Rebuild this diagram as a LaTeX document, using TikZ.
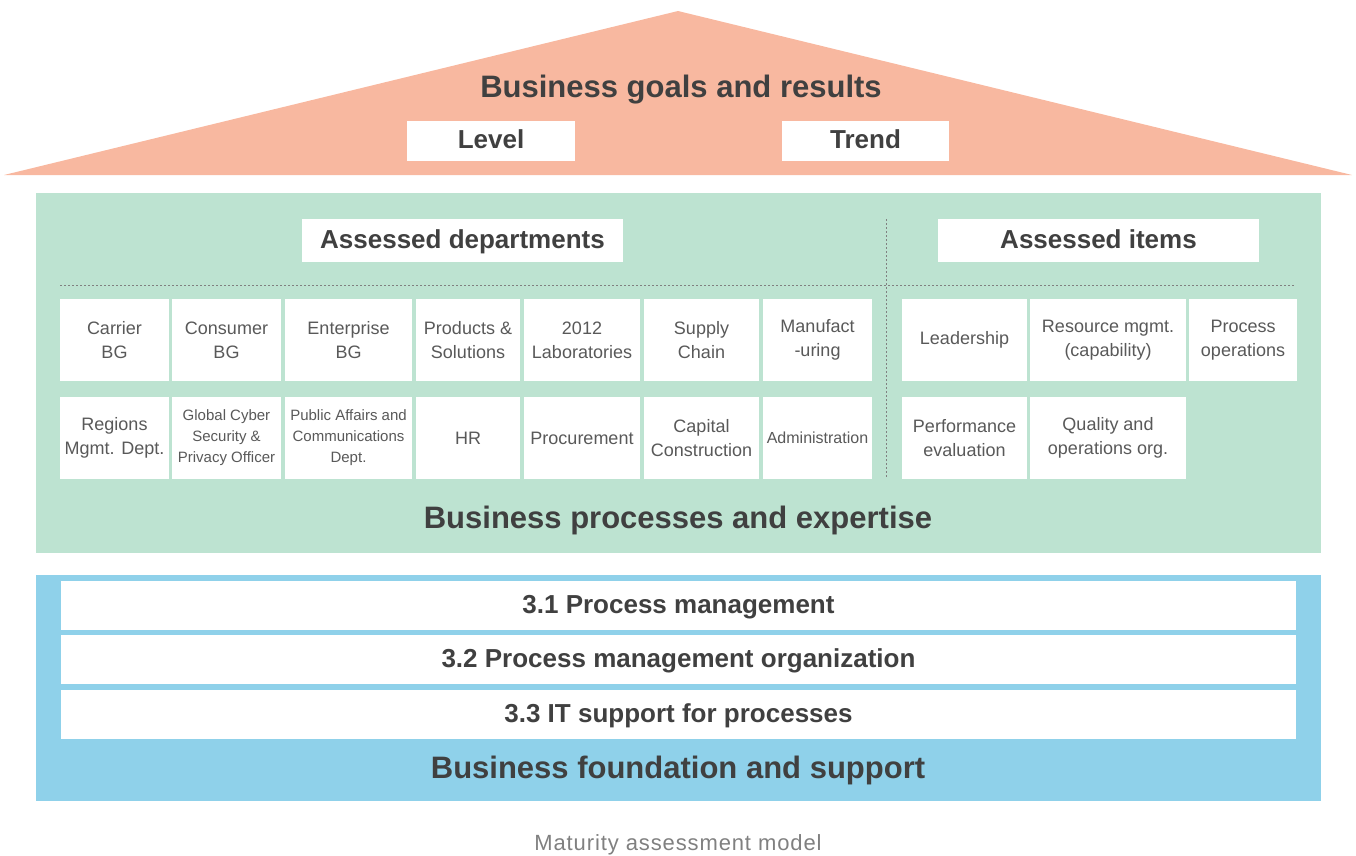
\documentclass[tikz,border=0pt]{standalone}
\usepackage{fontspec}
\setmainfont{Liberation Sans}
\usetikzlibrary{calc}

\definecolor{roofc}{RGB}{248,184,160}
\definecolor{greenc}{RGB}{189,227,209}
\definecolor{bluec}{RGB}{143,209,234}
\definecolor{headc}{RGB}{64,64,64}
\definecolor{cellc}{RGB}{89,89,89}
\definecolor{capc}{RGB}{128,128,128}

\tikzset{
	title/.style={text=headc, inner sep=0pt, anchor=base, font=\fontsize{31}{36}\selectfont\bfseries},
	head/.style={fill=white, text=headc, inner sep=0pt, text height=19pt, text depth=4pt, font=\fontsize{26}{30}\selectfont\bfseries},
	cell/.style={fill=white, text=cellc, inner sep=0pt, align=center, minimum height=82pt, font=\fontsize{18}{24}\selectfont},
	smallcell/.style={cell, font=\fontsize{15}{21}\selectfont},
	bar/.style={head, minimum width=1235pt, minimum height=49pt},
	sep/.style={capc, line width=1pt, dash pattern=on 2pt off 2pt}
}

\begin{document}
\begin{tikzpicture}[x=1pt, y=-1pt]
	
	\useasboundingbox (0,0) rectangle (1356,855);
	
	\coordinate (eaveL) at (4,175);
	\coordinate (apex) at (678,11);
	\coordinate (eaveR) at (1352,175);
	\coordinate (sepT) at (886,219);
	\coordinate (sepB) at (886,478);
	\coordinate (sepL) at (60,285);
	\coordinate (sepR) at (1295,285);
	
	% The roof
	\fill [roofc] (eaveL) -- (apex) -- (eaveR) -- cycle;
	
	% The green block
	\fill [greenc] (36,193) rectangle (1321,553);
	
	% The blue block
	\fill [bluec] (36,575) rectangle (1321,801);
	
	% Roof texts
	\node [title] (goals) at (681,97) {Business goals and results};
	\node [head, minimum width=168pt, minimum height=40pt] (level) at (491,141) {Level};
	\node [head, minimum width=167pt, minimum height=40pt] (trend) at (865.5,141) {Trend};
	
	% Separating lines
	\draw [sep] (sepT) -- (sepB);
	\draw [sep] (sepL) -- (sepR);
	
	% Column headings
	\node [head, minimum width=321pt, minimum height=43pt] (depts) at (462.5,240.5) {Assessed departments};
	\node [head, minimum width=321pt, minimum height=43pt] (items) at (1098.5,240.5) {Assessed items};
	
	% Departments, first row
	\node [cell, minimum width=109pt] (carrier) at (114.5,340) {Carrier\\BG};
	\node [cell, minimum width=109pt] (consumer) at (226.5,340) {Consumer\\BG};
	\node [cell, minimum width=127pt] (enterprise) at (348.5,340) {Enterprise\\BG};
	\node [cell, minimum width=104pt] (products) at (468,340) {Products \&\\Solutions};
	\node [cell, minimum width=116pt] (labs) at (582,340) {2012\\Laboratories};
	\node [cell, minimum width=115pt] (supply) at (701.5,340) {Supply\\Chain};
	\node [cell, minimum width=109pt] (manuf) at (817.5,340) {Manufact\\-uring};
	
	% Departments, second row
	\node [cell, minimum width=109pt] (regions) at (114.5,438) {Regions\\Mgmt. Dept.};
	\node [smallcell, minimum width=109pt] (cyber) at (226.5,438) {Global Cyber\\Security \&\\Privacy Officer};
	\node [smallcell, minimum width=127pt] (public) at (348.5,438) {Public Affairs and\\Communications\\Dept.};
	\node [cell, minimum width=104pt] (hr) at (468,438) {HR};
	\node [cell, minimum width=116pt] (procure) at (582,438) {Procurement};
	\node [cell, minimum width=115pt] (capital) at (701.5,438) {Capital\\Construction};
	\node [smallcell, minimum width=109pt, font=\fontsize{16}{21}\selectfont] (admin) at (817.5,438) {Administration};
	
	% Assessed items
	\node [cell, minimum width=125pt] (leader) at (964.5,340) {Leadership};
	\node [cell, minimum width=156pt] (resource) at (1108,340) {Resource mgmt.\\(capability)};
	\node [cell, minimum width=108pt] (procops) at (1243,340) {Process\\operations};
	\node [cell, minimum width=125pt] (perf) at (964.5,438) {Performance\\evaluation};
	\node [cell, minimum width=156pt] (quality) at (1108,438) {Quality and\\operations org.};
	
	% Green block title
	\node [title] (processes) at (678,528) {Business processes and expertise};
	
	% Foundation bars
	\node [bar] (pm) at (678.5,605.5) {3.1 Process management};
	\node [bar] (pmorg) at (678.5,659.5) {3.2 Process management organization};
	\node [bar] (itsup) at (678.5,714.5) {3.3 IT support for processes};
	
	% Blue block title
	\node [title] (foundation) at (678,778) {Business foundation and support};
	
	% Caption
	\node [text=capc, anchor=base, font=\fontsize{22}{24}\selectfont\addfontfeature{LetterSpace=4}] (caption) at (678,850) {Maturity assessment model};
	
\end{tikzpicture}
\end{document}
